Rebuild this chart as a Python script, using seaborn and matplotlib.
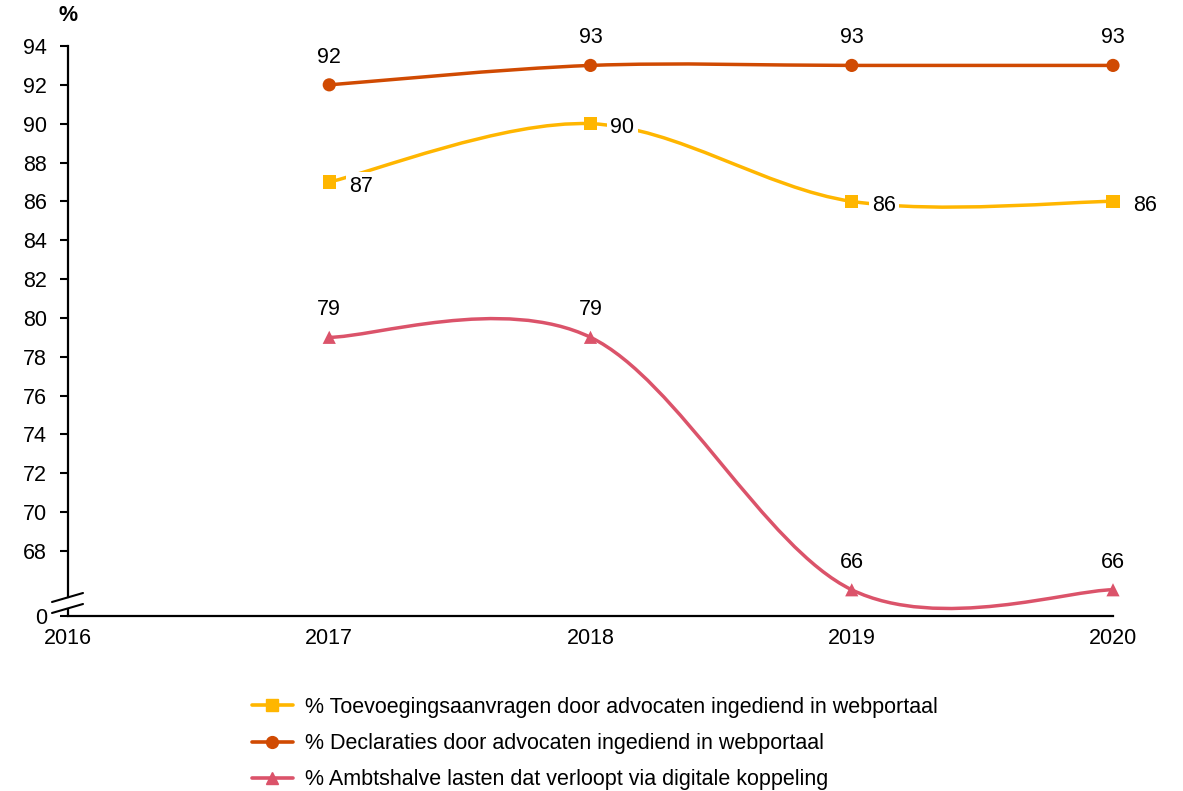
import matplotlib
matplotlib.use("Agg")
import matplotlib.pyplot as plt
import numpy as np
import pandas as pd
import seaborn as sns
from matplotlib.lines import Line2D
from matplotlib.path import Path
from matplotlib.patches import PathPatch

years = [2017, 2018, 2019, 2020]
toevoeging = [87, 90, 86, 86]
declaraties = [92, 93, 93, 93]
ambtshalve = [79, 79, 66, 66]

labels = [
    "% Toevoegingsaanvragen door advocaten ingediend in webportaal",
    "% Declaraties door advocaten ingediend in webportaal",
    "% Ambtshalve lasten dat verloopt via digitale koppeling",
]
colors = ["#FFB600", "#D04A02", "#DB536A"]
markers = ["s", "o", "^"]
label_pos = ["right", "above", "above"]

y_ticks = list(range(68, 95, 2))
y_min = 64.65
FS = 15.5


def smooth_path(xs, ys):
    # excel-like smoothed line: bezier with catmull-rom control points
    pts = np.column_stack([xs, ys]).astype(float)
    n = len(pts)
    verts = [pts[0]]
    codes = [Path.MOVETO]
    for i in range(n - 1):
        p0 = pts[max(i - 1, 0)]
        p1 = pts[i]
        p2 = pts[i + 1]
        p3 = pts[min(i + 2, n - 1)]
        c1 = p1 + (p2 - p0) / 6
        c2 = p2 - (p3 - p1) / 6
        verts += [c1, c2, p2]
        codes += [Path.CURVE4] * 3
    return Path(verts, codes)


sns.set_style("white")
plt.rcParams["font.family"] = ["Liberation Sans", "DejaVu Sans"]
plt.rcParams["text.color"] = "black"
plt.rcParams["xtick.color"] = "black"
plt.rcParams["ytick.color"] = "black"

fig = plt.figure(figsize=(11.83, 7.91), dpi=100)
ax = fig.add_axes([68 / 1183, 1 - 616 / 791, 1045 / 1183, 570 / 791])

df = pd.DataFrame({
    "year": years * 3,
    "value": toevoeging + declaraties + ambtshalve,
    "serie": [labels[0]] * 4 + [labels[1]] * 4 + [labels[2]] * 4,
})

for i, (lab, vals) in enumerate(zip(labels, [toevoeging, declaraties, ambtshalve])):
    ax.add_patch(PathPatch(smooth_path(years, vals), facecolor="none",
                           edgecolor=colors[i], lw=2.5, zorder=2, clip_on=False))

sns.scatterplot(data=df, x="year", y="value", hue="serie", style="serie",
                palette=colors, markers=markers, s=90, edgecolor="none",
                legend=False, ax=ax, zorder=3, clip_on=False)

for i, vals in enumerate([toevoeging, declaraties, ambtshalve]):
    for x, v in zip(years, vals):
        if label_pos[i] == "right":
            ax.annotate(str(v), (x, v), xytext=(23, -3), textcoords="offset points",
                        ha="center", va="center", fontsize=FS, zorder=4,
                        bbox=dict(boxstyle="square,pad=0.15", fc="white", ec="none"))
        else:
            ax.annotate(str(v), (x, v), xytext=(0, 20), textcoords="offset points",
                        ha="center", va="center", fontsize=FS, zorder=4)

ax.set_xlim(2016, 2020)
ax.set_ylim(y_min, 94)
ax.set_xticks([2016] + years)
ax.set_xticklabels([str(y) for y in [2016] + years], fontsize=FS)
ax.set_yticks([y_min] + y_ticks)
ax.set_yticklabels(["0"] + [str(t) for t in y_ticks], fontsize=FS)
ax.tick_params(axis="x", length=0, pad=9)
ax.tick_params(axis="y", length=6, width=1.5, pad=9, direction="out", left=True)
ax.set_xlabel("")
ax.set_ylabel("")

for s in ["top", "right"]:
    ax.spines[s].set_visible(False)
ax.spines["bottom"].set_color("black")
ax.spines["bottom"].set_linewidth(1.6)
ax.spines["left"].set_color("black")
ax.spines["left"].set_linewidth(1.6)
# axis break
h = 570
ax.spines["left"].set_bounds(y_min + 18.5 / 19.42, 94)
ax.plot([0, 0], [0, 7 / h], transform=ax.transAxes, color="black", lw=1.6, clip_on=False)
for y0 in [3 / h, 14 / h]:
    ax.plot([-16 / 1045, 15 / 1045], [y0, y0 + 9 / h], transform=ax.transAxes,
            color="black", lw=1.5, clip_on=False)

ax.text(0, 1.035, "%", transform=ax.transAxes, fontsize=FS, fontweight="bold",
        ha="center", va="bottom")

handles = [Line2D([], [], color=c, marker=m, lw=2.6, markersize=8.5)
           for c, m in zip(colors, markers)]
fig.legend(handles, labels, loc="upper left", bbox_to_anchor=(252 / 1183, 1 - 697 / 791),
           frameon=False, fontsize=FS, handlelength=1.9, handletextpad=0.55,
           labelspacing=0.7, borderaxespad=0, borderpad=0)

fig.savefig("out.png", dpi=100)
